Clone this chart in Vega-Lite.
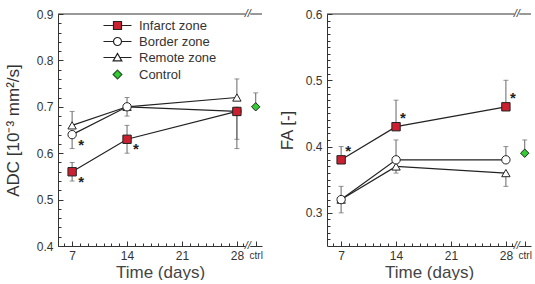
{
  "$schema": "https://vega.github.io/schema/vega-lite/v6.json",
  "padding": {"left": 4, "top": 8, "right": 0, "bottom": 0},
  "spacing": 15,
  "datasets": {
    "adc": [
      {"series": "Remote zone", "day": 7, "value": 0.66, "lo": 0.66, "hi": 0.69, "sig": false},
      {"series": "Remote zone", "day": 14, "value": 0.70, "lo": 0.70, "hi": 0.72, "sig": false},
      {"series": "Remote zone", "day": 28, "value": 0.72, "lo": 0.72, "hi": 0.76, "sig": false},
      {"series": "Border zone", "day": 7, "value": 0.64, "lo": 0.61, "hi": 0.64, "sig": true},
      {"series": "Border zone", "day": 14, "value": 0.70, "lo": 0.68, "hi": 0.70, "sig": false},
      {"series": "Border zone", "day": 28, "value": 0.69, "lo": 0.63, "hi": 0.69, "sig": false},
      {"series": "Infarct zone", "day": 7, "value": 0.56, "lo": 0.54, "hi": 0.58, "sig": true},
      {"series": "Infarct zone", "day": 14, "value": 0.63, "lo": 0.60, "hi": 0.66, "sig": true},
      {"series": "Infarct zone", "day": 28, "value": 0.69, "lo": 0.61, "hi": 0.69, "sig": false},
      {"series": "Control", "day": 30.4, "value": 0.70, "lo": 0.70, "hi": 0.73, "sig": false}
    ],
    "fa": [
      {"series": "Remote zone", "day": 7, "value": 0.32, "lo": 0.30, "hi": 0.32, "sig": false},
      {"series": "Remote zone", "day": 14, "value": 0.37, "lo": 0.36, "hi": 0.37, "sig": false},
      {"series": "Remote zone", "day": 28, "value": 0.36, "lo": 0.34, "hi": 0.36, "sig": false},
      {"series": "Border zone", "day": 7, "value": 0.32, "lo": 0.32, "hi": 0.34, "sig": false},
      {"series": "Border zone", "day": 14, "value": 0.38, "lo": 0.38, "hi": 0.41, "sig": false},
      {"series": "Border zone", "day": 28, "value": 0.38, "lo": 0.38, "hi": 0.40, "sig": false},
      {"series": "Infarct zone", "day": 7, "value": 0.38, "lo": 0.38, "hi": 0.40, "sig": true},
      {"series": "Infarct zone", "day": 14, "value": 0.43, "lo": 0.43, "hi": 0.47, "sig": true},
      {"series": "Infarct zone", "day": 28, "value": 0.46, "lo": 0.46, "hi": 0.50, "sig": true},
      {"series": "Control", "day": 30.4, "value": 0.39, "lo": 0.39, "hi": 0.41, "sig": false}
    ]
  },
  "resolve": {"scale": {"shape": "independent", "fill": "independent", "stroke": "independent"}},
  "hconcat": [
    {
      "width": 204,
      "height": 232,
      "data": {"name": "adc"},
      "resolve": {"scale": {"shape": "independent", "fill": "independent", "stroke": "independent"}, "axis": {"x": "independent", "y": "independent"}},
      "layer": [
        {
          "data": {"values": [{}]},
          "mark": {"type": "rule", "color": "#333", "strokeWidth": 1},
          "encoding": {"y": {"datum": 0.9, "type": "quantitative", "axis": null}}
        },
        {
          "mark": {"type": "errorbar", "ticks": {"size": 5}, "color": "#666", "thickness": 1},
          "encoding": {
            "x": {"field": "day", "type": "quantitative", "axis": null},
            "y": {"field": "lo", "type": "quantitative", "axis": null},
            "y2": {"field": "hi"}
          }
        },
        {
          "transform": [{"filter": "datum.series != 'Control'"}],
          "mark": {"type": "line", "color": "#222", "strokeWidth": 1.2},
          "encoding": {
            "x": {"field": "day", "type": "quantitative", "axis": {"orient": "bottom", "values": [7, 14, 21, 28, 30.4], "tickSize": -5, "labels": false, "domain": false, "title": null}},
            "y": {"field": "value", "type": "quantitative", "axis": {"orient": "left", "values": [0.4, 0.5, 0.6, 0.7, 0.8, 0.9], "tickSize": -5, "labels": false, "domain": false, "title": null}},
            "detail": {"field": "series"}
          }
        },
        {
          "mark": {"type": "point", "filled": true, "size": 70, "stroke": "#222", "strokeWidth": 1, "opacity": 1},
          "encoding": {
            "x": {"field": "day", "type": "quantitative", "scale": {"domain": [5.2, 31.2], "nice": false, "zero": false},
              "axis": {"orient": "bottom", "values": [7, 14, 21, 28, 30.4], "labelExpr": "datum.value > 29 ? 'ctrl' : datum.label", "labelFontSize": {"condition": {"test": "datum.value > 29", "value": 10}, "value": 12}, "ticks": false, "labelPadding": 4, "title": "Time (days)", "titlePadding": 3, "titleFontSize": 17, "titleFontWeight": "normal", "titleColor": "#444"}},
            "y": {"field": "value", "type": "quantitative", "scale": {"domain": [0.4, 0.9], "nice": false, "zero": false},
              "axis": {"orient": "left", "values": [0.4, 0.5, 0.6, 0.7, 0.8, 0.9], "format": ".1f", "ticks": false, "labelPadding": 5, "title": "ADC [10⁻³ mm²/s]", "titlePadding": 14, "titleFontSize": 17, "titleFontWeight": "normal"}},
            "shape": {"field": "series", "type": "nominal", "scale": {"domain": ["Infarct zone", "Border zone", "Remote zone", "Control"], "range": ["square", "circle", "triangle-up", "diamond"]}, "legend": null},
            "fill": {"field": "series", "type": "nominal", "scale": {"domain": ["Infarct zone", "Border zone", "Remote zone", "Control"], "range": ["#cc2030", "#ffffff", "#ffffff", "#33cc33"]}, "legend": null}
          }
        },
        {
          "transform": [{"filter": "datum.sig"}],
          "mark": {"type": "text", "text": "*", "fontSize": 15, "fontWeight": "bold", "color": "#222", "dx": 9, "dy": 10, "baseline": "middle"},
          "encoding": {
            "x": {"field": "day", "type": "quantitative", "axis": {"orient": "bottom", "values": [6, 8, 9, 10, 11, 12, 13, 15, 16, 17, 18, 19, 20, 22, 23, 24, 25, 26, 27, 28.8], "tickSize": -3, "labels": false, "domain": false, "title": null}},
            "y": {"field": "value", "type": "quantitative", "axis": {"orient": "left", "values": [0.42, 0.44, 0.46, 0.48, 0.52, 0.54, 0.56, 0.58, 0.62, 0.64, 0.66, 0.68, 0.72, 0.74, 0.76, 0.78, 0.82, 0.84, 0.86, 0.88], "tickSize": -3, "labels": false, "domain": false, "title": null}}
          }
        },
        {
          "data": {"values": [{}]},
          "mark": {"type": "rule", "color": "white", "strokeWidth": 4},
          "encoding": {"x": {"datum": 29.1, "type": "quantitative", "axis": null}, "x2": {"datum": 29.7}, "y": {"datum": 0.9, "type": "quantitative", "axis": null}}
        },
        {
          "data": {"values": [{}]},
          "mark": {"type": "rule", "color": "white", "strokeWidth": 4},
          "encoding": {"x": {"datum": 29.1, "type": "quantitative", "axis": null}, "x2": {"datum": 29.7}, "y": {"datum": 0.4, "type": "quantitative", "axis": null}}
        },
        {
          "data": {"values": [{}]},
          "mark": {"type": "text", "text": "//", "fontSize": 11, "fontStyle": "italic", "color": "#333", "baseline": "middle"},
          "encoding": {"x": {"datum": 29.4, "type": "quantitative", "axis": null}, "y": {"datum": 0.9, "type": "quantitative", "axis": null}}
        },
        {
          "data": {"values": [{}]},
          "mark": {"type": "text", "text": "//", "fontSize": 11, "fontStyle": "italic", "color": "#333", "baseline": "middle"},
          "encoding": {"x": {"datum": 29.4, "type": "quantitative", "axis": null}, "y": {"datum": 0.4, "type": "quantitative", "axis": null}}
        },
        {
          "transform": [{"filter": "false"}],
          "mark": {"type": "point", "filled": true, "strokeWidth": 1.2, "opacity": 1},
          "encoding": {
            "x": {"field": "day", "type": "quantitative", "axis": null},
            "y": {"field": "value", "type": "quantitative", "axis": null},
            "shape": {"field": "series", "type": "nominal",
              "scale": {"domain": ["Infarct zone", "Border zone", "Remote zone", "Control"],
                "range": ["M-3.5,0H-1M1,0H3.5M-1,-1H1V1H-1Z", "M-3.5,0H-1M1,0H3.5M1,0A1,1 0 1,1 -1,0A1,1 0 1,1 1,0Z", "M-3.5,0H-0.57M0.57,0H3.5M0,-1L1.08,0.85L-1.08,0.85Z", "M0,-1.1L1.1,0L0,1.1L-1.1,0Z"]},
              "legend": {"orient": "none", "legendX": 53, "legendY": 5, "title": null, "symbolSize": 64, "symbolStrokeWidth": 1.2, "labelFontSize": 13, "labelColor": "#333", "labelOffset": 15, "rowPadding": 2}},
            "fill": {"field": "series", "type": "nominal", "scale": {"domain": ["Infarct zone", "Border zone", "Remote zone", "Control"], "range": ["#cc2030", "#ffffff", "#ffffff", "#33cc33"]}, "legend": {"orient": "none", "legendX": 53, "legendY": 5, "title": null, "symbolSize": 64, "symbolStrokeWidth": 1.2, "labelFontSize": 13, "labelColor": "#333", "labelOffset": 15, "rowPadding": 2}},
            "stroke": {"field": "series", "type": "nominal", "scale": {"domain": ["Infarct zone", "Border zone", "Remote zone", "Control"], "range": ["#222222", "#222222", "#222222", "#225522"]}, "legend": {"orient": "none", "legendX": 53, "legendY": 5, "title": null, "symbolSize": 64, "symbolStrokeWidth": 1.2, "labelFontSize": 13, "labelColor": "#333", "labelOffset": 15, "rowPadding": 2}}
          }
        }
      ]
    },
    {
      "width": 204,
      "height": 232,
      "data": {"name": "fa"},
      "resolve": {"axis": {"x": "independent", "y": "independent"}},
      "layer": [
        {
          "data": {"values": [{}]},
          "mark": {"type": "rule", "color": "#333", "strokeWidth": 1},
          "encoding": {"y": {"datum": 0.6, "type": "quantitative", "axis": null}}
        },
        {
          "mark": {"type": "errorbar", "ticks": {"size": 5}, "color": "#666", "thickness": 1},
          "encoding": {
            "x": {"field": "day", "type": "quantitative", "axis": null},
            "y": {"field": "lo", "type": "quantitative", "axis": null},
            "y2": {"field": "hi"}
          }
        },
        {
          "transform": [{"filter": "datum.series != 'Control'"}],
          "mark": {"type": "line", "color": "#222", "strokeWidth": 1.2},
          "encoding": {
            "x": {"field": "day", "type": "quantitative", "axis": {"orient": "bottom", "values": [7, 14, 21, 28, 30.4], "tickSize": -5, "labels": false, "domain": false, "title": null}},
            "y": {"field": "value", "type": "quantitative", "axis": {"orient": "left", "values": [0.3, 0.4, 0.5, 0.6], "tickSize": -5, "labels": false, "domain": false, "title": null}},
            "detail": {"field": "series"}
          }
        },
        {
          "mark": {"type": "point", "filled": true, "size": 70, "stroke": "#222", "strokeWidth": 1, "opacity": 1},
          "encoding": {
            "x": {"field": "day", "type": "quantitative", "scale": {"domain": [5.2, 31.2], "nice": false, "zero": false},
              "axis": {"orient": "bottom", "values": [7, 14, 21, 28, 30.4], "labelExpr": "datum.value > 29 ? 'ctrl' : datum.label", "labelFontSize": {"condition": {"test": "datum.value > 29", "value": 10}, "value": 12}, "ticks": false, "labelPadding": 4, "title": "Time (days)", "titlePadding": 3, "titleFontSize": 17, "titleFontWeight": "normal", "titleColor": "#444"}},
            "y": {"field": "value", "type": "quantitative", "scale": {"domain": [0.25, 0.6], "nice": false, "zero": false},
              "axis": {"orient": "left", "values": [0.3, 0.4, 0.5, 0.6], "format": ".1f", "ticks": false, "labelPadding": 5, "title": "FA [-]", "titlePadding": 9, "titleFontSize": 17, "titleFontWeight": "normal"}},
            "shape": {"field": "series", "type": "nominal", "scale": {"domain": ["Infarct zone", "Border zone", "Remote zone", "Control"], "range": ["square", "circle", "triangle-up", "diamond"]}, "legend": null},
            "fill": {"field": "series", "type": "nominal", "scale": {"domain": ["Infarct zone", "Border zone", "Remote zone", "Control"], "range": ["#cc2030", "#ffffff", "#ffffff", "#33cc33"]}, "legend": null}
          }
        },
        {
          "transform": [{"filter": "datum.sig"}],
          "mark": {"type": "text", "text": "*", "fontSize": 15, "fontWeight": "bold", "color": "#222", "dx": 7, "dy": -9, "baseline": "middle"},
          "encoding": {
            "x": {"field": "day", "type": "quantitative", "axis": {"orient": "bottom", "values": [6, 8, 9, 10, 11, 12, 13, 15, 16, 17, 18, 19, 20, 22, 23, 24, 25, 26, 27, 28.8], "tickSize": -3, "labels": false, "domain": false, "title": null}},
            "y": {"field": "value", "type": "quantitative", "axis": {"orient": "left", "values": [0.26, 0.27, 0.28, 0.29, 0.31, 0.32, 0.33, 0.34, 0.35, 0.36, 0.37, 0.38, 0.39, 0.41, 0.42, 0.43, 0.44, 0.45, 0.46, 0.47, 0.48, 0.49, 0.51, 0.52, 0.53, 0.54, 0.55, 0.56, 0.57, 0.58, 0.59], "tickSize": -3, "labels": false, "domain": false, "title": null}}
          }
        },
        {
          "data": {"values": [{}]},
          "mark": {"type": "rule", "color": "white", "strokeWidth": 4},
          "encoding": {"x": {"datum": 29.1, "type": "quantitative", "axis": null}, "x2": {"datum": 29.7}, "y": {"datum": 0.6, "type": "quantitative", "axis": null}}
        },
        {
          "data": {"values": [{}]},
          "mark": {"type": "rule", "color": "white", "strokeWidth": 4},
          "encoding": {"x": {"datum": 29.1, "type": "quantitative", "axis": null}, "x2": {"datum": 29.7}, "y": {"datum": 0.25, "type": "quantitative", "axis": null}}
        },
        {
          "data": {"values": [{}]},
          "mark": {"type": "text", "text": "//", "fontSize": 11, "fontStyle": "italic", "color": "#333", "baseline": "middle"},
          "encoding": {"x": {"datum": 29.4, "type": "quantitative", "axis": null}, "y": {"datum": 0.6, "type": "quantitative", "axis": null}}
        },
        {
          "data": {"values": [{}]},
          "mark": {"type": "text", "text": "//", "fontSize": 11, "fontStyle": "italic", "color": "#333", "baseline": "middle"},
          "encoding": {"x": {"datum": 29.4, "type": "quantitative", "axis": null}, "y": {"datum": 0.25, "type": "quantitative", "axis": null}}
        }
      ]
    }
  ],
  "config": {
    "font": "Liberation Sans",
    "view": {"stroke": null},
    "axis": {"domainColor": "#333", "tickColor": "#333", "labelColor": "#333", "titleColor": "#333", "labelFontSize": 12, "titleFontSize": 17, "titleFontWeight": "normal", "grid": false}
  }
}
